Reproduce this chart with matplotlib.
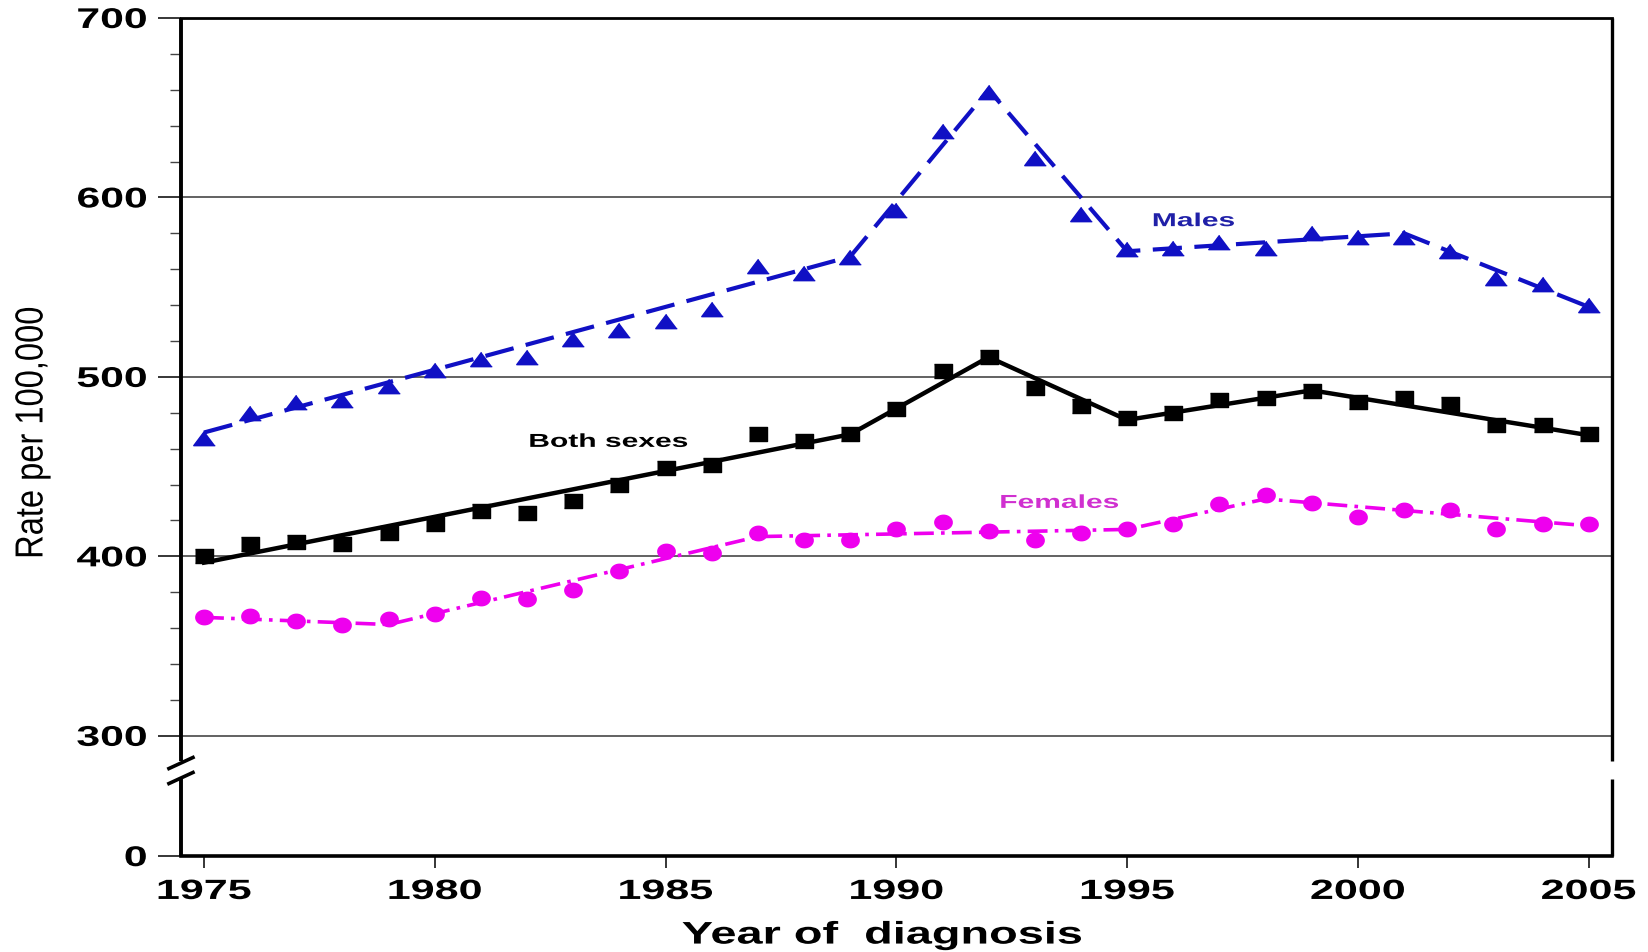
import numpy as np
import matplotlib
matplotlib.use("Agg")
import matplotlib.pyplot as plt
import matplotlib.patheffects as pe
from matplotlib.transforms import Affine2D

plt.rcParams['font.family'] = ['Liberation Sans', 'DejaVu Sans']

# observed rates (per 100,000), 1975-2005
years = list(range(1975, 2006))
both_obs = [400, 407, 408, 407, 413, 418, 425, 424, 431, 440, 449, 451, 468, 464, 468, 482,
            503, 511, 494, 484, 477, 480, 487, 488, 492, 486, 488, 485, 473, 473, 468]
males_obs = [466, 480, 486, 487, 495, 504, 510, 511, 521, 526, 531, 538, 562, 558, 567, 593,
             637, 659, 622, 591, 571, 572, 575, 572, 580, 578, 578, 570, 555, 552, 540]
females_obs = [366, 367, 364, 362, 365, 368, 377, 376, 381, 392, 403, 402, 413, 409, 409, 415,
               419, 414, 409, 413, 415, 418, 429, 434, 430, 422, 426, 426, 415, 418, 418]

# joinpoint fitted trends
both_fit_years = [1975, 1989, 1992, 1995, 1999, 2005]
both_fit = [396.5, 468, 511, 476, 492.5, 467.5]
males_fit_years = [1975, 1989, 1992, 1995, 2001, 2005]
males_fit = [469, 567, 660, 570, 580, 539]
females_fit_years = [1975, 1979, 1987, 1995, 1998, 2005]
females_fit = [366, 362, 411, 415, 432, 417]

xticks = [1975, 1980, 1985, 1990, 1995, 2000, 2005]
ytick_vals = [0, 300, 400, 500, 600, 700]
grid_levels = [300, 400, 500, 600]

# broken axis: 0..300 squeezed into a short band under 300
ZERO_POS = 233.0


def ypos(v):
    return v if v >= 300 else ZERO_POS + (300 - ZERO_POS) * v / 300.0


class Stretch(pe.AbstractPathEffect):
    """widen glyphs around an anchor, like the wide lettering of the original"""
    def __init__(self, sx=1.0, sy=1.0, anchor='center'):
        super().__init__()
        self.sx, self.sy, self.anchor = sx, sy, anchor

    def draw_path(self, renderer, gc, tpath, affine, rgbFace=None):
        ext = tpath.get_extents()
        px = {'left': ext.x0, 'center': (ext.x0 + ext.x1) / 2, 'right': ext.x1}[self.anchor]
        py = (ext.y0 + ext.y1) / 2
        t = Affine2D().translate(-px, -py).scale(self.sx, self.sy).translate(px, py)
        renderer.draw_path(gc, tpath, t + affine, rgbFace)


# slightly wide markers
sq = [(-1.3, -1), (1.3, -1), (1.3, 1), (-1.3, 1)]
tri = [(0, 1), (-1.5, -1), (1.5, -1)]
ang = np.linspace(0, 2 * np.pi, 40)
ell = list(zip(1.2 * np.cos(ang), np.sin(ang)))

blue = '#1010C4'
mag = '#EE00EE'

fig = plt.figure(figsize=(16.48, 9.53), dpi=100)
ax = fig.add_axes([0.1098, 0.1007, 0.978 - 0.1098, 0.9801 - 0.1007])

ax.plot(males_fit_years, males_fit, color=blue, lw=3, dashes=(7, 3), zorder=3)
ax.plot(both_fit_years, both_fit, color='black', lw=3.2, zorder=3)
ax.plot(females_fit_years, females_fit, color=mag, lw=2.6, dashes=(5.5, 2, 1, 2), zorder=3)

ax.plot(years, males_obs, ls='none', marker=tri, ms=15.5, color=blue, mec=blue, zorder=4)
ax.plot(years, both_obs, ls='none', marker=sq, ms=13.5, color='black', zorder=4)
ax.plot(years, females_obs, ls='none', marker=ell, ms=12.5, color=mag, mec=mag, zorder=4)

ax.set_xlim(1974.5, 2005.5)
ax.set_ylim(ZERO_POS, 700)

for g in grid_levels:
    ax.axhline(g, color='#555555', lw=1.3, zorder=1)

wide = Stretch(1.6, 1, 'center')
ax.set_xticks(xticks)
ax.set_xticklabels([str(x) for x in xticks], fontsize=20, fontweight='bold',
                   path_effects=[Stretch(1.55, 1, 'center')])
ax.set_yticks([ypos(v) for v in ytick_vals])
ax.set_yticklabels([str(v) for v in ytick_vals], fontsize=20.5, fontweight='bold',
                   path_effects=[Stretch(1.5, 1, 'right')])
ax.set_yticks([v for v in range(320, 700, 20) if v % 100], minor=True)
ax.tick_params(axis='y', which='major', direction='out', length=16.5, width=1.1, pad=8)
ax.tick_params(axis='y', which='minor', direction='out', length=8, width=1.0, color='#444444')
ax.tick_params(axis='x', which='major', direction='out', length=8.5, width=1.1, pad=8)
ax.tick_params(axis='x', which='minor', bottom=False)

ax.set_xlabel('Year of  diagnosis', fontsize=22.5, fontweight='bold',
              path_effects=[Stretch(1.5, 1, 'center')])
ax.xaxis.set_label_coords(0.49, -0.077)
ax.set_ylabel('Rate per 100,000', fontsize=23.5, path_effects=[Stretch(1, 1.2, 'center')])
ax.yaxis.set_label_coords(-0.093, 0.505)

# spines: left/right broken near the bottom
for s in ['left', 'right']:
    ax.spines[s].set_visible(False)
ax.spines['bottom'].set_linewidth(2.6)
ax.spines['top'].set_linewidth(2.0)
gap_top, gap_bot = 0.1134, 0.0919
for xs, lw in [(0, 2.8), (1, 2.4)]:
    ax.plot([xs, xs], [gap_top, 1], transform=ax.transAxes, color='black', lw=lw,
            clip_on=False, zorder=5, solid_capstyle='butt')
    ax.plot([xs, xs], [0, gap_bot], transform=ax.transAxes, color='black', lw=lw,
            clip_on=False, zorder=5, solid_capstyle='butt')
dx, dy = 0.0084, 0.0066
for yc in [0.1110, 0.0931]:
    ax.plot([-dx, dx], [yc - dy, yc + dy], transform=ax.transAxes, color='black', lw=2.6,
            clip_on=False, zorder=5)

ax.text(1996.44, 584, 'Males', color='#2020A8', fontsize=13.5, fontweight='bold',
        ha='center', va='baseline', path_effects=[wide])
ax.text(1983.76, 461, 'Both sexes', color='black', fontsize=13.5, fontweight='bold',
        ha='center', va='baseline', path_effects=[wide])
ax.text(1993.53, 427, 'Females', color='#D030D0', fontsize=13.5, fontweight='bold',
        ha='center', va='baseline', path_effects=[wide])

fig.savefig('out.png', dpi=100)
